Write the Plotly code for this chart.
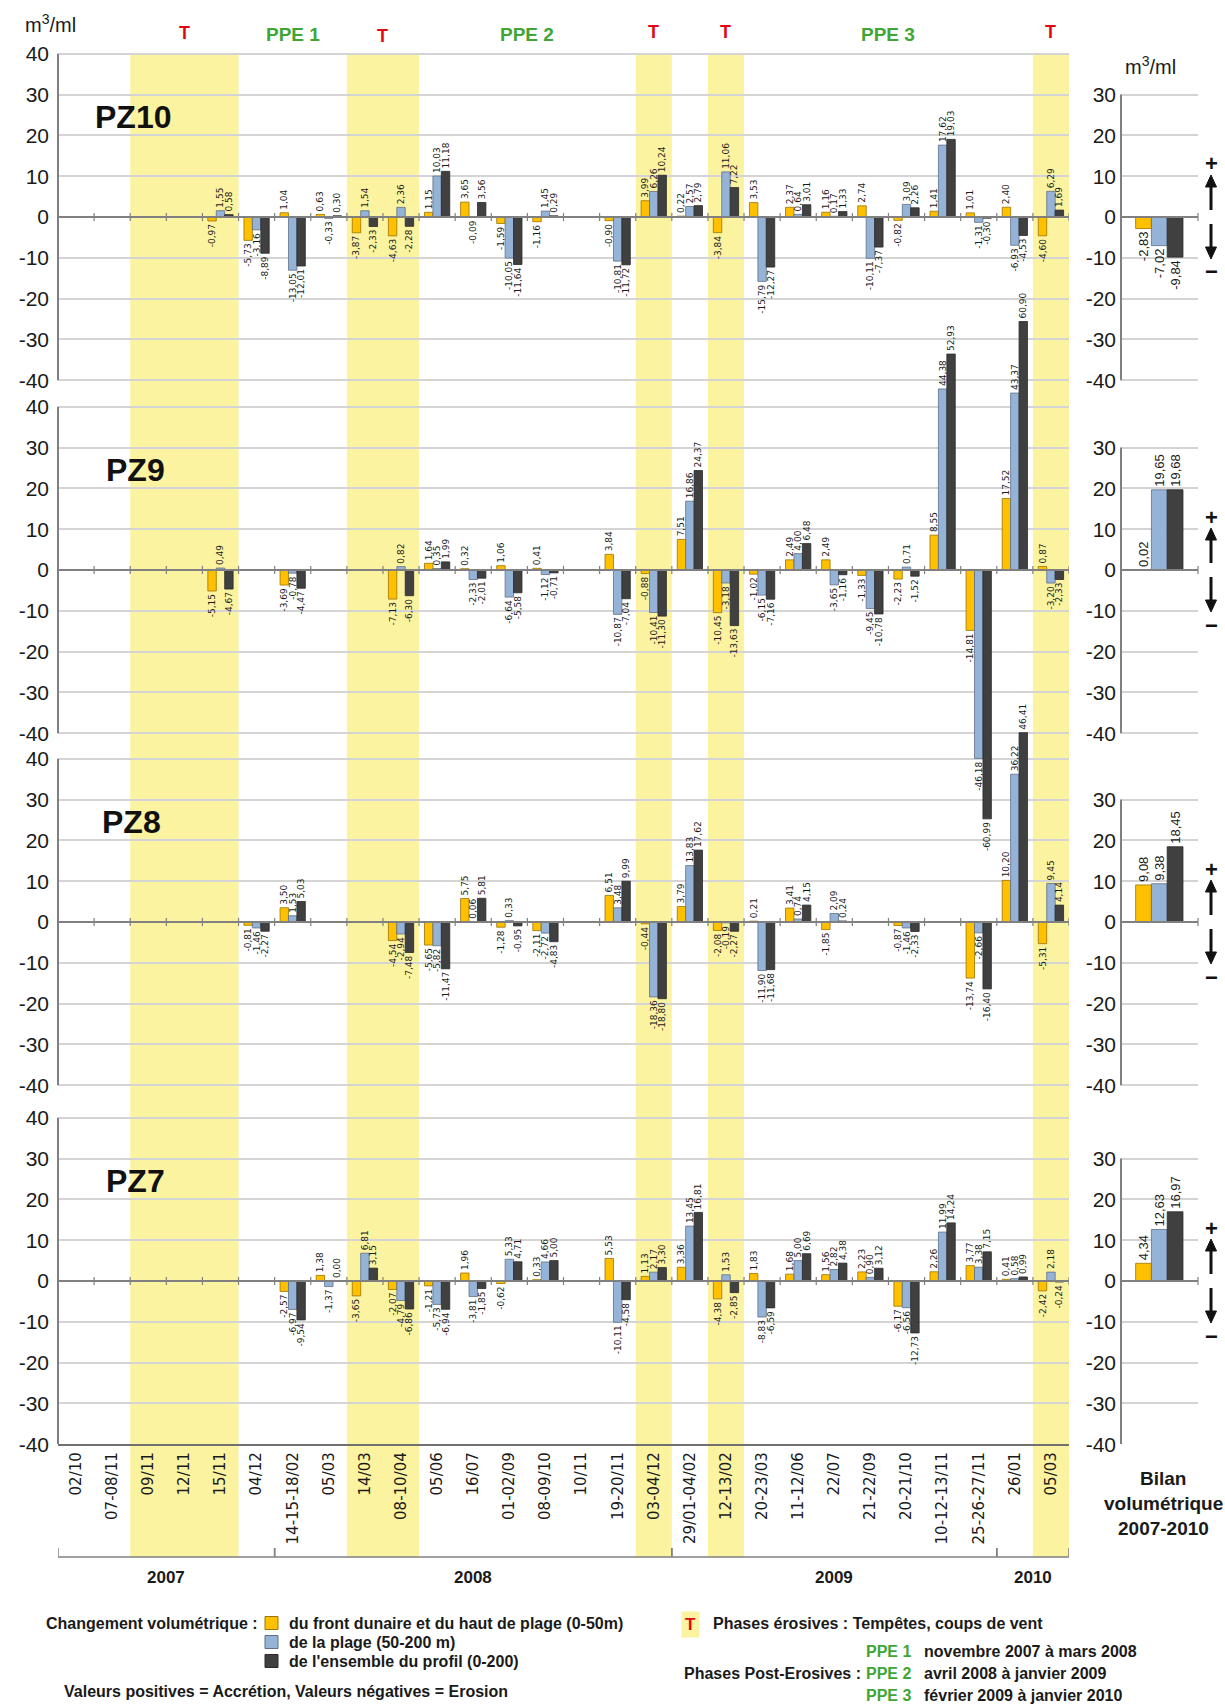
import plotly.graph_objects as go

# ---------------- data ----------------
categories = ["02/10", "07-08/11", "09/11", "12/11", "15/11", "04/12",
              "14-15-18/02", "05/03", "14/03", "08-10/04", "05/06", "16/07",
              "01-02/09", "08-09/10", "10/11", "19-20/11", "03-04/12",
              "29/01-04/02", "12-13/02", "20-23/03", "11-12/06", "22/07",
              "21-22/09", "20-21/10", "10-12-13/11", "25-26-27/11", "26/01", "05/03"]

profiles = ["PZ10", "PZ9", "PZ8", "PZ7"]
series_names = ["du front dunaire et du haut de plage (0-50m)",
                "de la plage (50-200 m)",
                "de l'ensemble du profil (0-200)"]
series_colors = ["#FFC000", "#95B3D7", "#404040"]
series_edges = ["#9A7400", "#5F6F86", "#2A2A2A"]

N = None
pz10_front = [N, N, N, N, -0.97, -5.73, 1.04, 0.63, -3.87, -4.63, 1.15, 3.65, -1.59, -1.16, N, -0.90, 3.99, 0.22, -3.84, 3.53, 2.37, 1.16, 2.74, -0.82, 1.41, 1.01, 2.40, -4.60]
pz10_plage = [N, N, N, N, 1.55, -3.16, -13.05, -0.33, 1.54, 2.36, 10.03, -0.09, -10.05, 1.45, N, -10.81, 6.26, 2.57, 11.06, -15.79, 0.64, 0.17, -10.11, 3.09, 17.62, -1.31, -6.93, 6.29]
pz10_profil = [N, N, N, N, 0.58, -8.89, -12.01, 0.30, -2.33, -2.28, 11.18, 3.56, -11.64, 0.29, N, -11.72, 10.24, 2.79, 7.22, -12.27, 3.01, 1.33, -7.37, 2.26, 19.03, -0.30, -4.53, 1.69]

pz9_front = [N, N, N, N, -5.15, N, -3.69, N, N, -7.13, 1.64, 0.32, 1.06, 0.41, N, 3.84, -0.88, 7.51, -10.45, -1.02, 2.49, 2.49, -1.33, -2.23, 8.55, -14.81, 17.52, 0.87]
pz9_plage = [N, N, N, N, 0.49, N, -0.78, N, N, 0.82, 0.35, -2.33, -6.64, -1.12, N, -10.87, -10.41, 16.86, -3.18, -6.15, 4.00, -3.65, -9.45, 0.71, 44.38, -46.18, 43.37, -3.20]
pz9_profil = [N, N, N, N, -4.67, N, -4.47, N, N, -6.30, 1.99, -2.01, -5.58, -0.71, N, -7.04, -11.30, 24.37, -13.63, -7.16, 6.48, -1.16, -10.78, -1.52, 52.93, -60.99, 60.90, -2.33]

pz8_front = [N, N, N, N, N, -0.81, 3.50, N, N, -4.54, -5.65, 5.75, -1.28, -2.11, N, 6.51, -0.44, 3.79, -2.08, 0.21, 3.41, -1.85, N, -0.87, N, -13.74, 10.20, -5.31]
pz8_plage = [N, N, N, N, N, -1.46, 1.53, N, N, -2.94, -5.82, 0.06, 0.33, -2.72, N, 3.48, -18.36, 13.83, -0.19, -11.90, 0.74, 2.09, N, -1.46, N, -2.66, 36.22, 9.45]
pz8_profil = [N, N, N, N, N, -2.27, 5.03, N, N, -7.48, -11.47, 5.81, -0.95, -4.83, N, 9.99, -18.80, 17.62, -2.27, -11.68, 4.15, 0.24, N, -2.33, N, -16.40, 46.41, 4.14]

pz7_front = [N, N, N, N, N, N, -2.57, 1.38, -3.65, -2.07, -1.21, 1.96, -0.62, 0.33, N, 5.53, 1.13, 3.36, -4.38, 1.83, 1.68, 1.56, 2.23, -6.17, 2.26, 3.77, 0.41, -2.42]
pz7_plage = [N, N, N, N, N, N, -6.97, -1.37, 6.81, -4.79, -5.73, -3.81, 5.33, 4.66, N, -10.11, 2.17, 13.45, 1.53, -8.83, 5.00, 2.82, 0.90, -6.56, 11.99, 3.38, 0.58, 2.18]
pz7_profil = [N, N, N, N, N, N, -9.54, 0.00, 3.15, -6.86, -6.94, -1.85, 4.71, 5.00, N, -4.58, 3.30, 16.81, -2.85, -6.59, 6.69, 4.38, 3.12, -12.73, 14.24, 7.15, 0.99, -0.24]

bilan_category = ["Bilan"]
bilan_front = [-2.83, 0.02, 9.08, 4.34]
bilan_plage = [-7.02, 19.65, 9.38, 12.63]
bilan_profil = [-9.84, 19.68, 18.45, 16.97]

years = ["2007", "2008", "2009", "2010"]
year_spans = [(0, 5), (6, 16), (17, 25), (26, 27)]
storm_spans = [(2, 4), (8, 9), (16, 16), (18, 18), (27, 27)]
ppe_labels = ["PPE 1", "PPE 2", "PPE 3"]
ppe_spans = [(5, 7), (10, 15), (19, 26)]

left_ticks = [40, 30, 20, 10, 0, -10, -20, -30, -40]
right_ticks = [30, 20, 10, 0, -10, -20, -30, -40]

panels = [
    (pz10_front, pz10_plage, pz10_profil),
    (pz9_front, pz9_plage, pz9_profil),
    (pz8_front, pz8_plage, pz8_profil),
    (pz7_front, pz7_plage, pz7_profil),
]
bilans = [bilan_front, bilan_plage, bilan_profil]

# ---------------- layout geometry ----------------
W, H = 1225, 1704
PX = 4.08                      # pixels per m3/ml
ZERO_PX = [217, 570, 922, 1281]
BOTTOM_PX = ZERO_PX[3] + 40 * PX
X_LEFT, X_RIGHT = 58, 1069
X2_LEFT, X2_RIGHT = 1121, 1198
YEAR_LINE_PX = 1557
RIGHT_BAR_W = 0.205
RIGHT_BAR_OFF = [-0.31, -0.105, 0.10]
ARROW_X = 1211

def val(px):
    return (ZERO_PX[0] - px) / PX

def py(px):
    return 1 - px / H

def pxx(px):
    return px / W

offsets = [val(p) for p in ZERO_PX]

NARROW = "Liberation Sans Narrow, Arial Narrow, Liberation Sans, Arial, sans-serif"
SANS = "Liberation Sans, Arial, sans-serif"
LBL = "DejaVu Sans, Verdana, sans-serif"

def fmt(v):
    if v is None:
        return ""
    return f"{v:.2f}".replace(".", ",")

fig = go.Figure()
xs = list(range(len(categories)))

for p, series in enumerate(panels):
    for s, vals in enumerate(series):
        fig.add_trace(go.Bar(
            x=xs, y=vals, base=offsets[p], offsetgroup=str(s),
            name=series_names[s], showlegend=False,
            marker=dict(color=series_colors[s], line=dict(color=series_edges[s], width=0.8)),
            text=[fmt(v) for v in vals], textposition="outside", textangle=-90,
            textfont=dict(family=LBL, size=9, color="#1a1a1a"),
            constraintext="none", cliponaxis=False,
            xaxis="x", yaxis="y", hoverinfo="skip",
        ))

for s, vals in enumerate(bilans):
    for p in range(4):
        fig.add_trace(go.Bar(
            x=bilan_category, y=[vals[p]], base=offsets[p],
            width=RIGHT_BAR_W, offset=RIGHT_BAR_OFF[s],
            showlegend=False,
            marker=dict(color=series_colors[s], line=dict(color=series_edges[s], width=0.8)),
            text=[fmt(vals[p])], textposition="outside", textangle=-90,
            textfont=dict(family=NARROW, size=13, color="#1a1a1a"),
            constraintext="none", cliponaxis=False,
            xaxis="x2", yaxis="y2", hoverinfo="skip",
        ))

ltv, ltt, rtv, rtt = [], [], [], []
for o in offsets:
    for t in left_ticks:
        ltv.append(o + t)
        ltt.append(str(t))
    for t in right_ticks:
        rtv.append(o + t)
        rtt.append(str(t))

yrange = [val(BOTTOM_PX), val(0)]
ydomain = [1 - BOTTOM_PX / H, 1]

shapes = []
for a, b in storm_spans:
    shapes.append(dict(type="rect", xref="x", yref="paper", x0=a - 0.5, x1=b + 0.5,
                       y0=py(YEAR_LINE_PX), y1=py(ZERO_PX[0] - 40 * PX),
                       fillcolor="#FCF3A0", line=dict(width=0), layer="below"))
for p, o in enumerate(offsets):
    shapes.append(dict(type="line", xref="x domain", yref="y", x0=0, x1=0,
                       y0=o - 40, y1=o + 40, line=dict(color="#808080", width=2)))
    shapes.append(dict(type="line", xref="x domain", yref="y", x0=0, x1=1,
                       y0=o, y1=o, line=dict(color="#808080", width=2)))
    for k in range(len(categories) + 1):
        shapes.append(dict(type="line", xref="x", yref="y", x0=k - 0.5, x1=k - 0.5,
                           y0=o - 1.0, y1=o + 1.0, line=dict(color="#808080", width=1.2)))
    shapes.append(dict(type="line", xref="x2 domain", yref="y2", x0=0, x1=0,
                       y0=o - 40, y1=o + 30, line=dict(color="#808080", width=2)))
    shapes.append(dict(type="line", xref="x2 domain", yref="y2", x0=0, x1=1,
                       y0=o, y1=o, line=dict(color="#808080", width=2)))
    shapes.append(dict(type="line", xref="x2 domain", yref="y2", x0=1, x1=1,
                       y0=o - 1.0, y1=o + 1.0, line=dict(color="#808080", width=1.2)))

# accretion / erosion arrows
for zp in ZERO_PX:
    for sgn in (-1, 1):
        shapes.append(dict(type="line", xref="paper", yref="paper",
                           x0=pxx(ARROW_X), x1=pxx(ARROW_X),
                           y0=py(zp + sgn * 7), y1=py(zp + sgn * 31),
                           line=dict(color="#111111", width=3)))
        shapes.append(dict(type="path", xref="paper", yref="paper",
                           path=(f"M {pxx(ARROW_X - 5.5)} {py(zp + sgn * 30)} "
                                 f"L {pxx(ARROW_X)} {py(zp + sgn * 42)} "
                                 f"L {pxx(ARROW_X + 5.5)} {py(zp + sgn * 30)} Z"),
                           fillcolor="#111111", line=dict(color="#111111", width=1)))

shapes.append(dict(type="line", xref="x domain", yref="paper", x0=0, x1=1,
                   y0=py(YEAR_LINE_PX), y1=py(YEAR_LINE_PX), line=dict(color="#808080", width=1.5)))
for a, b in year_spans:
    for xb in (a - 0.5, b + 0.5):
        shapes.append(dict(type="line", xref="x", yref="paper", x0=xb, x1=xb,
                           y0=py(YEAR_LINE_PX), y1=py(YEAR_LINE_PX - 9),
                           line=dict(color="#808080", width=1.5)))

for s in range(3):
    yc = [1623, 1642, 1661][s]
    shapes.append(dict(type="rect", xref="paper", yref="paper",
                       x0=pxx(265), x1=pxx(278), y0=py(yc + 6.5), y1=py(yc - 6.5),
                       fillcolor=series_colors[s], line=dict(color=series_edges[s], width=1)))

ann = []
def text(x, y, t, size, color="#1a1a1a", family=NARROW, bold=False, xanchor="center",
         xref="paper", yref="paper", **kw):
    if bold:
        t = f"<b>{t}</b>"
    ann.append(dict(x=x, y=y, xref=xref, yref=yref, text=t, showarrow=False,
                    xanchor=xanchor, yanchor="middle",
                    font=dict(family=family, size=size, color=color), **kw))

text(pxx(23), py(24), "m<sup>3</sup>/ml", 20, xanchor="left")
text(pxx(1123), py(66), "m<sup>3</sup>/ml", 20, xanchor="left")

for (a, b), ty in zip(storm_spans, [33, 36, 32, 32, 32]):
    text((a + b) / 2, py(ty), "T", 18, color="#E30613", family=SANS, bold=True, xref="x")
for lab, (a, b) in zip(ppe_labels, ppe_spans):
    text((a + b) / 2, py(34), lab, 19, color="#3FA535", family=NARROW, bold=True, xref="x")

for name, o, xc in zip(profiles, offsets, [133, 135, 131, 135]):
    text(pxx(xc), o + 24.5, name, 32, color="#111111", family=SANS, bold=True, yref="y")

for zp in ZERO_PX:
    text(pxx(ARROW_X), py(zp - 53), "+", 22, color="#111111", family=SANS, bold=True)
    text(pxx(ARROW_X), py(zp + 55), "−", 22, color="#111111", family=SANS, bold=True)

for yl, (a, b) in zip(years, year_spans):
    text((a + b) / 2, py(1577), yl, 17, family=SANS, bold=True, xref="x")

for t, yy in zip(["Bilan", "volumétrique", "2007-2010"], [1478, 1503, 1528]):
    text(pxx(1163), py(yy), t, 19, family=NARROW, bold=True)

text(pxx(44), py(1623), "Changement volumétrique :", 16, bold=True, xanchor="left")
for s in range(3):
    text(pxx(287), py([1623, 1642, 1661][s]), series_names[s], 16, bold=True, xanchor="left")
text(pxx(62), py(1691), "Valeurs positives = Accrétion, Valeurs négatives = Erosion", 16,
     bold=True, xanchor="left")
text(pxx(690), py(1624), "T", 17, color="#E30613", family=SANS, bold=True,
     bgcolor="#FCF3A0", borderpad=3)
text(pxx(711), py(1623), "Phases érosives : Tempêtes, coups de vent", 16, bold=True, xanchor="left")
text(pxx(682), py(1673), "Phases Post-Erosives :", 16, bold=True, xanchor="left")
for lab, desc, yy in zip(ppe_labels,
                         ["novembre 2007 à mars 2008", "avril 2008 à janvier 2009",
                          "février 2009 à janvier 2010"], [1651, 1673, 1695]):
    text(pxx(864), py(yy), lab, 16, color="#3FA535", bold=True, xanchor="left")
    text(pxx(922), py(yy), desc, 16, bold=True, xanchor="left")

fig.update_layout(
    width=W, height=H, margin=dict(l=0, r=0, t=0, b=0),
    template="none", paper_bgcolor="white", plot_bgcolor="rgba(0,0,0,0)",
    barmode="group", bargap=0.3, bargroupgap=0.0, showlegend=False,
    xaxis=dict(domain=[pxx(X_LEFT), pxx(X_RIGHT)], range=[-0.5, len(categories) - 0.5],
               tickmode="array", tickvals=xs, ticktext=categories, tickangle=-90,
               tickfont=dict(family=LBL, size=15, color="#1a1a1a"),
               showgrid=False, zeroline=False, showline=True, linecolor="#707070",
               linewidth=2, ticks="", anchor="y", automargin=False, fixedrange=True),
    yaxis=dict(domain=ydomain, range=yrange, tickmode="array", tickvals=ltv, ticktext=ltt,
               tickfont=dict(family=NARROW, size=21, color="#1a1a1a"),
               showgrid=True, gridcolor="#d4d4d4", gridwidth=1.5, zeroline=False,
               showline=False, ticks="", ticklabelstandoff=8, anchor="x",
               automargin=False, fixedrange=True),
    xaxis2=dict(domain=[pxx(X2_LEFT), pxx(X2_RIGHT)], range=[-0.5, 0.5],
                showticklabels=False, showgrid=False, zeroline=False, showline=False,
                ticks="", anchor="y2", automargin=False, fixedrange=True),
    yaxis2=dict(domain=ydomain, range=yrange, tickmode="array", tickvals=rtv, ticktext=rtt,
                tickfont=dict(family=NARROW, size=21, color="#1a1a1a"),
                showgrid=True, gridcolor="#d4d4d4", gridwidth=1.5, zeroline=False,
                showline=False, ticks="", ticklabelstandoff=4, anchor="x2",
                automargin=False, fixedrange=True),
    shapes=shapes, annotations=ann,
)

fig.write_html("out.html", config={"displayModeBar": False},
               post_script="document.body.style.margin='0px';document.body.style.overflow='hidden';")
